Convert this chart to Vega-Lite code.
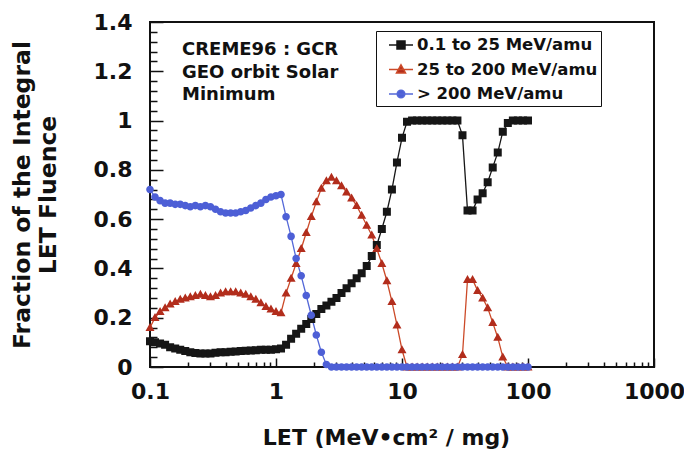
{
  "$schema": "https://vega.github.io/schema/vega-lite/v6.json",
  "width": 504,
  "height": 345,
  "autosize": {"type": "none"},
  "padding": {"left": 150, "top": 22, "right": 30, "bottom": 86},
  "background": "white",
  "config": {
    "font": "DejaVu Sans",
    "view": {"stroke": "#111111", "strokeWidth": 2},
    "axis": {"labelFont": "DejaVu Sans", "titleFont": "DejaVu Sans", "labelColor": "#111111", "titleColor": "#111111", "tickColor": "#111111"},
    "legend": {"labelFont": "DejaVu Sans"}
  },
  "datasets": {
    "curves": [
      {"s":"0.1 to 25 MeV/amu","x":0.1,"y":0.105},
      {"s":"0.1 to 25 MeV/amu","x":0.1096,"y":0.1},
      {"s":"0.1 to 25 MeV/amu","x":0.1202,"y":0.095},
      {"s":"0.1 to 25 MeV/amu","x":0.1318,"y":0.09},
      {"s":"0.1 to 25 MeV/amu","x":0.1445,"y":0.08},
      {"s":"0.1 to 25 MeV/amu","x":0.1585,"y":0.075},
      {"s":"0.1 to 25 MeV/amu","x":0.1738,"y":0.07},
      {"s":"0.1 to 25 MeV/amu","x":0.1905,"y":0.065},
      {"s":"0.1 to 25 MeV/amu","x":0.2089,"y":0.06},
      {"s":"0.1 to 25 MeV/amu","x":0.2291,"y":0.057},
      {"s":"0.1 to 25 MeV/amu","x":0.2512,"y":0.055},
      {"s":"0.1 to 25 MeV/amu","x":0.2754,"y":0.055},
      {"s":"0.1 to 25 MeV/amu","x":0.302,"y":0.055},
      {"s":"0.1 to 25 MeV/amu","x":0.3311,"y":0.058},
      {"s":"0.1 to 25 MeV/amu","x":0.3631,"y":0.06},
      {"s":"0.1 to 25 MeV/amu","x":0.3981,"y":0.06},
      {"s":"0.1 to 25 MeV/amu","x":0.4365,"y":0.062},
      {"s":"0.1 to 25 MeV/amu","x":0.4786,"y":0.063},
      {"s":"0.1 to 25 MeV/amu","x":0.5248,"y":0.065},
      {"s":"0.1 to 25 MeV/amu","x":0.5754,"y":0.066},
      {"s":"0.1 to 25 MeV/amu","x":0.631,"y":0.067},
      {"s":"0.1 to 25 MeV/amu","x":0.6918,"y":0.068},
      {"s":"0.1 to 25 MeV/amu","x":0.7586,"y":0.07},
      {"s":"0.1 to 25 MeV/amu","x":0.8318,"y":0.07},
      {"s":"0.1 to 25 MeV/amu","x":0.912,"y":0.07},
      {"s":"0.1 to 25 MeV/amu","x":1,"y":0.072},
      {"s":"0.1 to 25 MeV/amu","x":1.096,"y":0.075},
      {"s":"0.1 to 25 MeV/amu","x":1.202,"y":0.09},
      {"s":"0.1 to 25 MeV/amu","x":1.318,"y":0.115},
      {"s":"0.1 to 25 MeV/amu","x":1.445,"y":0.135},
      {"s":"0.1 to 25 MeV/amu","x":1.585,"y":0.155},
      {"s":"0.1 to 25 MeV/amu","x":1.738,"y":0.175},
      {"s":"0.1 to 25 MeV/amu","x":1.905,"y":0.195},
      {"s":"0.1 to 25 MeV/amu","x":2.089,"y":0.215},
      {"s":"0.1 to 25 MeV/amu","x":2.291,"y":0.235},
      {"s":"0.1 to 25 MeV/amu","x":2.512,"y":0.25},
      {"s":"0.1 to 25 MeV/amu","x":2.754,"y":0.265},
      {"s":"0.1 to 25 MeV/amu","x":3.02,"y":0.28},
      {"s":"0.1 to 25 MeV/amu","x":3.311,"y":0.3},
      {"s":"0.1 to 25 MeV/amu","x":3.631,"y":0.32},
      {"s":"0.1 to 25 MeV/amu","x":3.981,"y":0.34},
      {"s":"0.1 to 25 MeV/amu","x":4.365,"y":0.36},
      {"s":"0.1 to 25 MeV/amu","x":4.786,"y":0.38},
      {"s":"0.1 to 25 MeV/amu","x":5.248,"y":0.41},
      {"s":"0.1 to 25 MeV/amu","x":5.754,"y":0.45},
      {"s":"0.1 to 25 MeV/amu","x":6.31,"y":0.495},
      {"s":"0.1 to 25 MeV/amu","x":6.918,"y":0.56},
      {"s":"0.1 to 25 MeV/amu","x":7.586,"y":0.63},
      {"s":"0.1 to 25 MeV/amu","x":8.318,"y":0.72},
      {"s":"0.1 to 25 MeV/amu","x":9.12,"y":0.83},
      {"s":"0.1 to 25 MeV/amu","x":10,"y":0.93},
      {"s":"0.1 to 25 MeV/amu","x":10.96,"y":0.995},
      {"s":"0.1 to 25 MeV/amu","x":12.02,"y":1},
      {"s":"0.1 to 25 MeV/amu","x":13.18,"y":1},
      {"s":"0.1 to 25 MeV/amu","x":14.45,"y":1},
      {"s":"0.1 to 25 MeV/amu","x":15.85,"y":1},
      {"s":"0.1 to 25 MeV/amu","x":17.38,"y":1},
      {"s":"0.1 to 25 MeV/amu","x":19.05,"y":1},
      {"s":"0.1 to 25 MeV/amu","x":20.89,"y":1},
      {"s":"0.1 to 25 MeV/amu","x":22.91,"y":1},
      {"s":"0.1 to 25 MeV/amu","x":25.12,"y":1},
      {"s":"0.1 to 25 MeV/amu","x":27.54,"y":1},
      {"s":"0.1 to 25 MeV/amu","x":30.2,"y":0.94},
      {"s":"0.1 to 25 MeV/amu","x":33.11,"y":0.635},
      {"s":"0.1 to 25 MeV/amu","x":36.31,"y":0.635},
      {"s":"0.1 to 25 MeV/amu","x":39.81,"y":0.68},
      {"s":"0.1 to 25 MeV/amu","x":43.65,"y":0.705},
      {"s":"0.1 to 25 MeV/amu","x":47.86,"y":0.75},
      {"s":"0.1 to 25 MeV/amu","x":52.48,"y":0.81},
      {"s":"0.1 to 25 MeV/amu","x":57.54,"y":0.87},
      {"s":"0.1 to 25 MeV/amu","x":63.1,"y":0.955},
      {"s":"0.1 to 25 MeV/amu","x":69.18,"y":0.99},
      {"s":"0.1 to 25 MeV/amu","x":75.86,"y":1},
      {"s":"0.1 to 25 MeV/amu","x":83.18,"y":1},
      {"s":"0.1 to 25 MeV/amu","x":91.2,"y":1},
      {"s":"0.1 to 25 MeV/amu","x":100,"y":1},

      {"s":"25 to 200 MeV/amu","x":0.1,"y":0.16},
      {"s":"25 to 200 MeV/amu","x":0.1096,"y":0.2},
      {"s":"25 to 200 MeV/amu","x":0.1202,"y":0.225},
      {"s":"25 to 200 MeV/amu","x":0.1318,"y":0.24},
      {"s":"25 to 200 MeV/amu","x":0.1445,"y":0.255},
      {"s":"25 to 200 MeV/amu","x":0.1585,"y":0.265},
      {"s":"25 to 200 MeV/amu","x":0.1738,"y":0.275},
      {"s":"25 to 200 MeV/amu","x":0.1905,"y":0.28},
      {"s":"25 to 200 MeV/amu","x":0.2089,"y":0.285},
      {"s":"25 to 200 MeV/amu","x":0.2291,"y":0.29},
      {"s":"25 to 200 MeV/amu","x":0.2512,"y":0.295},
      {"s":"25 to 200 MeV/amu","x":0.2754,"y":0.29},
      {"s":"25 to 200 MeV/amu","x":0.302,"y":0.285},
      {"s":"25 to 200 MeV/amu","x":0.3311,"y":0.29},
      {"s":"25 to 200 MeV/amu","x":0.3631,"y":0.3},
      {"s":"25 to 200 MeV/amu","x":0.3981,"y":0.305},
      {"s":"25 to 200 MeV/amu","x":0.4365,"y":0.305},
      {"s":"25 to 200 MeV/amu","x":0.4786,"y":0.305},
      {"s":"25 to 200 MeV/amu","x":0.5248,"y":0.3},
      {"s":"25 to 200 MeV/amu","x":0.5754,"y":0.295},
      {"s":"25 to 200 MeV/amu","x":0.631,"y":0.285},
      {"s":"25 to 200 MeV/amu","x":0.6918,"y":0.275},
      {"s":"25 to 200 MeV/amu","x":0.7586,"y":0.26},
      {"s":"25 to 200 MeV/amu","x":0.8318,"y":0.245},
      {"s":"25 to 200 MeV/amu","x":0.912,"y":0.235},
      {"s":"25 to 200 MeV/amu","x":1,"y":0.225},
      {"s":"25 to 200 MeV/amu","x":1.096,"y":0.22},
      {"s":"25 to 200 MeV/amu","x":1.202,"y":0.3},
      {"s":"25 to 200 MeV/amu","x":1.318,"y":0.36},
      {"s":"25 to 200 MeV/amu","x":1.445,"y":0.42},
      {"s":"25 to 200 MeV/amu","x":1.585,"y":0.48},
      {"s":"25 to 200 MeV/amu","x":1.738,"y":0.545},
      {"s":"25 to 200 MeV/amu","x":1.905,"y":0.61},
      {"s":"25 to 200 MeV/amu","x":2.089,"y":0.67},
      {"s":"25 to 200 MeV/amu","x":2.291,"y":0.725},
      {"s":"25 to 200 MeV/amu","x":2.512,"y":0.755},
      {"s":"25 to 200 MeV/amu","x":2.754,"y":0.77},
      {"s":"25 to 200 MeV/amu","x":3.02,"y":0.755},
      {"s":"25 to 200 MeV/amu","x":3.311,"y":0.735},
      {"s":"25 to 200 MeV/amu","x":3.631,"y":0.71},
      {"s":"25 to 200 MeV/amu","x":3.981,"y":0.685},
      {"s":"25 to 200 MeV/amu","x":4.365,"y":0.655},
      {"s":"25 to 200 MeV/amu","x":4.786,"y":0.615},
      {"s":"25 to 200 MeV/amu","x":5.248,"y":0.575},
      {"s":"25 to 200 MeV/amu","x":5.754,"y":0.535},
      {"s":"25 to 200 MeV/amu","x":6.31,"y":0.48},
      {"s":"25 to 200 MeV/amu","x":6.918,"y":0.42},
      {"s":"25 to 200 MeV/amu","x":7.586,"y":0.35},
      {"s":"25 to 200 MeV/amu","x":8.318,"y":0.265},
      {"s":"25 to 200 MeV/amu","x":9.12,"y":0.17},
      {"s":"25 to 200 MeV/amu","x":10,"y":0.07},
      {"s":"25 to 200 MeV/amu","x":10.96,"y":0},
      {"s":"25 to 200 MeV/amu","x":12.02,"y":0},
      {"s":"25 to 200 MeV/amu","x":13.18,"y":0},
      {"s":"25 to 200 MeV/amu","x":14.45,"y":0},
      {"s":"25 to 200 MeV/amu","x":15.85,"y":0},
      {"s":"25 to 200 MeV/amu","x":17.38,"y":0},
      {"s":"25 to 200 MeV/amu","x":19.05,"y":0},
      {"s":"25 to 200 MeV/amu","x":20.89,"y":0},
      {"s":"25 to 200 MeV/amu","x":22.91,"y":0},
      {"s":"25 to 200 MeV/amu","x":25.12,"y":0},
      {"s":"25 to 200 MeV/amu","x":27.54,"y":0},
      {"s":"25 to 200 MeV/amu","x":30.2,"y":0.05},
      {"s":"25 to 200 MeV/amu","x":33.11,"y":0.355},
      {"s":"25 to 200 MeV/amu","x":36.31,"y":0.355},
      {"s":"25 to 200 MeV/amu","x":39.81,"y":0.31},
      {"s":"25 to 200 MeV/amu","x":43.65,"y":0.28},
      {"s":"25 to 200 MeV/amu","x":47.86,"y":0.24},
      {"s":"25 to 200 MeV/amu","x":52.48,"y":0.18},
      {"s":"25 to 200 MeV/amu","x":57.54,"y":0.12},
      {"s":"25 to 200 MeV/amu","x":63.1,"y":0.04},
      {"s":"25 to 200 MeV/amu","x":69.18,"y":0},
      {"s":"25 to 200 MeV/amu","x":75.86,"y":0},
      {"s":"25 to 200 MeV/amu","x":83.18,"y":0},
      {"s":"25 to 200 MeV/amu","x":91.2,"y":0},
      {"s":"25 to 200 MeV/amu","x":100,"y":0},

      {"s":"> 200 MeV/amu","x":0.1,"y":0.72},
      {"s":"> 200 MeV/amu","x":0.1096,"y":0.69},
      {"s":"> 200 MeV/amu","x":0.1202,"y":0.675},
      {"s":"> 200 MeV/amu","x":0.1318,"y":0.665},
      {"s":"> 200 MeV/amu","x":0.1445,"y":0.665},
      {"s":"> 200 MeV/amu","x":0.1585,"y":0.66},
      {"s":"> 200 MeV/amu","x":0.1738,"y":0.66},
      {"s":"> 200 MeV/amu","x":0.1905,"y":0.655},
      {"s":"> 200 MeV/amu","x":0.2089,"y":0.65},
      {"s":"> 200 MeV/amu","x":0.2291,"y":0.655},
      {"s":"> 200 MeV/amu","x":0.2512,"y":0.65},
      {"s":"> 200 MeV/amu","x":0.2754,"y":0.655},
      {"s":"> 200 MeV/amu","x":0.302,"y":0.65},
      {"s":"> 200 MeV/amu","x":0.3311,"y":0.64},
      {"s":"> 200 MeV/amu","x":0.3631,"y":0.63},
      {"s":"> 200 MeV/amu","x":0.3981,"y":0.625},
      {"s":"> 200 MeV/amu","x":0.4365,"y":0.625},
      {"s":"> 200 MeV/amu","x":0.4786,"y":0.625},
      {"s":"> 200 MeV/amu","x":0.5248,"y":0.63},
      {"s":"> 200 MeV/amu","x":0.5754,"y":0.635},
      {"s":"> 200 MeV/amu","x":0.631,"y":0.645},
      {"s":"> 200 MeV/amu","x":0.6918,"y":0.655},
      {"s":"> 200 MeV/amu","x":0.7586,"y":0.665},
      {"s":"> 200 MeV/amu","x":0.8318,"y":0.68},
      {"s":"> 200 MeV/amu","x":0.912,"y":0.69},
      {"s":"> 200 MeV/amu","x":1,"y":0.695},
      {"s":"> 200 MeV/amu","x":1.096,"y":0.7},
      {"s":"> 200 MeV/amu","x":1.202,"y":0.61},
      {"s":"> 200 MeV/amu","x":1.318,"y":0.53},
      {"s":"> 200 MeV/amu","x":1.445,"y":0.44},
      {"s":"> 200 MeV/amu","x":1.585,"y":0.37},
      {"s":"> 200 MeV/amu","x":1.738,"y":0.29},
      {"s":"> 200 MeV/amu","x":1.905,"y":0.21},
      {"s":"> 200 MeV/amu","x":2.089,"y":0.13},
      {"s":"> 200 MeV/amu","x":2.291,"y":0.06},
      {"s":"> 200 MeV/amu","x":2.512,"y":0.01},
      {"s":"> 200 MeV/amu","x":2.754,"y":0},
      {"s":"> 200 MeV/amu","x":3.02,"y":0},
      {"s":"> 200 MeV/amu","x":3.311,"y":0},
      {"s":"> 200 MeV/amu","x":3.631,"y":0},
      {"s":"> 200 MeV/amu","x":3.981,"y":0},
      {"s":"> 200 MeV/amu","x":4.365,"y":0},
      {"s":"> 200 MeV/amu","x":4.786,"y":0},
      {"s":"> 200 MeV/amu","x":5.248,"y":0},
      {"s":"> 200 MeV/amu","x":5.754,"y":0},
      {"s":"> 200 MeV/amu","x":6.31,"y":0},
      {"s":"> 200 MeV/amu","x":6.918,"y":0},
      {"s":"> 200 MeV/amu","x":7.586,"y":0},
      {"s":"> 200 MeV/amu","x":8.318,"y":0},
      {"s":"> 200 MeV/amu","x":9.12,"y":0},
      {"s":"> 200 MeV/amu","x":10,"y":0},
      {"s":"> 200 MeV/amu","x":10.96,"y":0},
      {"s":"> 200 MeV/amu","x":12.02,"y":0},
      {"s":"> 200 MeV/amu","x":13.18,"y":0},
      {"s":"> 200 MeV/amu","x":14.45,"y":0},
      {"s":"> 200 MeV/amu","x":15.85,"y":0},
      {"s":"> 200 MeV/amu","x":17.38,"y":0},
      {"s":"> 200 MeV/amu","x":19.05,"y":0},
      {"s":"> 200 MeV/amu","x":20.89,"y":0},
      {"s":"> 200 MeV/amu","x":22.91,"y":0},
      {"s":"> 200 MeV/amu","x":25.12,"y":0},
      {"s":"> 200 MeV/amu","x":27.54,"y":0},
      {"s":"> 200 MeV/amu","x":30.2,"y":0},
      {"s":"> 200 MeV/amu","x":33.11,"y":0},
      {"s":"> 200 MeV/amu","x":36.31,"y":0},
      {"s":"> 200 MeV/amu","x":39.81,"y":0},
      {"s":"> 200 MeV/amu","x":43.65,"y":0},
      {"s":"> 200 MeV/amu","x":47.86,"y":0},
      {"s":"> 200 MeV/amu","x":52.48,"y":0},
      {"s":"> 200 MeV/amu","x":57.54,"y":0},
      {"s":"> 200 MeV/amu","x":63.1,"y":0},
      {"s":"> 200 MeV/amu","x":69.18,"y":0},
      {"s":"> 200 MeV/amu","x":75.86,"y":0},
      {"s":"> 200 MeV/amu","x":83.18,"y":0},
      {"s":"> 200 MeV/amu","x":91.2,"y":0},
      {"s":"> 200 MeV/amu","x":100,"y":0}
    ],
    "note": [
      {"x": 0.1795, "y": 1.266, "t": "CREME96 : GCR\nGEO orbit Solar\nMinimum"}
    ]
  },
  "resolve": {"axis": {"x": "independent", "y": "independent"}},
  "layer": [
    {
      "data": {"name": "curves"},
      "transform": [{"filter": {"field": "s", "equal": "0.1 to 25 MeV/amu"}}],
      "mark": {"type": "line", "strokeWidth": 1.3, "color": "#161616"},
      "encoding": {
        "x": {
          "field": "x", "type": "quantitative",
          "scale": {"type": "log", "domain": [0.1, 1000], "nice": false},
          "axis": {
            "orient": "bottom", "values": [0.1, 1, 10, 100, 1000], "format": "~g",
            "ticks": false, "domain": false, "grid": false,
            "labelFontSize": 22, "labelFontWeight": "bold", "labelPadding": 14,
            "labelFlush": false, "labelOverlap": false,
            "title": "LET (MeV•cm² / mg)", "titleFontSize": 22, "titleFontWeight": "bold",
            "titleX": 236, "titleY": 70, "titleAlign": "center", "titleBaseline": "middle"
          }
        },
        "y": {
          "field": "y", "type": "quantitative",
          "scale": {"domain": [0, 1.4], "nice": false},
          "axis": {
            "orient": "left", "values": [0, 0.2, 0.4, 0.6, 0.8, 1, 1.2, 1.4], "format": "~g",
            "ticks": false, "domain": false, "grid": false,
            "labelFontSize": 22, "labelFontWeight": "bold", "labelPadding": 18,
            "labelFlush": false, "labelOverlap": false,
            "title": ["Fraction of the Integral", "LET Fluence"],
            "titleFontSize": 23.5, "titleFontWeight": "bold", "titleLineHeight": 26,
            "titleX": -128, "titleY": 172.5, "titleAngle": -90,
            "titleAlign": "center", "titleBaseline": "middle"
          }
        }
      }
    },
    {
      "data": {"name": "curves"},
      "transform": [{"filter": {"field": "s", "equal": "25 to 200 MeV/amu"}}],
      "mark": {"type": "line", "strokeWidth": 1.3, "color": "#cc4a28"},
      "encoding": {
        "x": {"field": "x", "type": "quantitative", "axis": null},
        "y": {"field": "y", "type": "quantitative", "axis": null}
      }
    },
    {
      "data": {"name": "curves"},
      "transform": [{"filter": {"field": "s", "equal": "> 200 MeV/amu"}}],
      "mark": {"type": "line", "strokeWidth": 1.3, "color": "#5468d8"},
      "encoding": {
        "x": {"field": "x", "type": "quantitative", "axis": null},
        "y": {"field": "y", "type": "quantitative", "axis": null}
      }
    },
    {
      "data": {"name": "curves"},
      "mark": {"type": "point", "filled": true, "opacity": 1, "size": 400},
      "encoding": {
        "x": {
          "field": "x", "type": "quantitative",
          "axis": {
            "orient": "bottom", "values": [0.1, 1, 10, 100, 1000],
            "labels": false, "domain": false, "grid": false, "title": null,
            "ticks": true, "tickSize": -9, "tickWidth": 1.5
          }
        },
        "y": {
          "field": "y", "type": "quantitative",
          "axis": {
            "orient": "left", "values": [0, 0.2, 0.4, 0.6, 0.8, 1, 1.2, 1.4],
            "labels": false, "domain": false, "grid": false, "title": null,
            "ticks": true, "tickSize": -13, "tickWidth": 1.5
          }
        },
        "color": {
          "field": "s", "type": "nominal",
          "scale": {"domain": ["0.1 to 25 MeV/amu", "25 to 200 MeV/amu", "> 200 MeV/amu"], "range": ["#161616", "#b22d1c", "#4d5fd6"]},
          "legend": {
            "title": null, "orient": "none", "legendX": 226, "legendY": 9,
            "padding": 3, "symbolSize": 400, "symbolStrokeWidth": 1.5,
            "symbolOffset": 11, "labelOffset": 5, "rowPadding": 4.5,
            "labelFontSize": 16.5, "labelFontWeight": "bold", "labelColor": "#111111", "labelLimit": 400,
            "strokeColor": "#111111", "fillColor": "white"
          }
        },
        "shape": {
          "field": "s", "type": "nominal",
          "scale": {
            "domain": ["0.1 to 25 MeV/amu", "25 to 200 MeV/amu", "> 200 MeV/amu"],
            "range": [
              "M-1.2,0H1.2M-0.4,-0.4H0.4V0.4H-0.4Z",
              "M-1.2,0H1.2M0,-0.46L0.45,0.34H-0.45Z",
              "M-1.2,0H1.2M-0.38,0A0.38,0.38,0,1,0,0.38,0A0.38,0.38,0,1,0,-0.38,0Z"
            ]
          },
          "legend": {
            "title": null, "orient": "none", "legendX": 226, "legendY": 9,
            "padding": 3, "symbolSize": 400, "symbolStrokeWidth": 1.5,
            "symbolOffset": 11, "labelOffset": 5, "rowPadding": 4.5,
            "labelFontSize": 16.5, "labelFontWeight": "bold", "labelColor": "#111111", "labelLimit": 400,
            "strokeColor": "#111111", "fillColor": "white"
          }
        },
        "stroke": {
          "field": "s", "type": "nominal",
          "scale": {"domain": ["0.1 to 25 MeV/amu", "25 to 200 MeV/amu", "> 200 MeV/amu"], "range": ["#161616", "#cc4a28", "#5468d8"]},
          "legend": {
            "title": null, "orient": "none", "legendX": 226, "legendY": 9,
            "padding": 3, "symbolSize": 400, "symbolStrokeWidth": 1.5,
            "symbolOffset": 11, "labelOffset": 5, "rowPadding": 4.5,
            "labelFontSize": 16.5, "labelFontWeight": "bold", "labelColor": "#111111", "labelLimit": 400,
            "strokeColor": "#111111", "fillColor": "white"
          }
        },
        "strokeWidth": {"value": 0}
      }
    },
    {
      "data": {"name": "note"},
      "mark": {"type": "text", "align": "left", "baseline": "alphabetic", "font": "DejaVu Sans", "fontSize": 18, "fontWeight": "bold", "lineBreak": "\n", "lineHeight": 22.5, "color": "#111111"},
      "encoding": {
        "x": {
          "field": "x", "type": "quantitative",
          "axis": {
            "orient": "bottom",
            "values": [0.2, 0.3, 0.4, 0.5, 0.6, 0.7, 0.8, 0.9, 2, 3, 4, 5, 6, 7, 8, 9, 20, 30, 40, 50, 60, 70, 80, 90, 200, 300, 400, 500, 600, 700, 800, 900],
            "labels": false, "domain": false, "grid": false, "title": null,
            "ticks": true, "tickSize": -5, "tickWidth": 1.5
          }
        },
        "y": {
          "field": "y", "type": "quantitative",
          "axis": {
            "orient": "left",
            "values": [0.04, 0.08, 0.12, 0.16, 0.24, 0.28, 0.32, 0.36, 0.44, 0.48, 0.52, 0.56, 0.64, 0.68, 0.72, 0.76, 0.84, 0.88, 0.92, 0.96, 1.04, 1.08, 1.12, 1.16, 1.24, 1.28, 1.32, 1.36],
            "labels": false, "domain": false, "grid": false, "title": null,
            "ticks": true, "tickSize": -7, "tickWidth": 1.5
          }
        },
        "text": {"field": "t", "type": "nominal"}
      }
    }
  ]
}
